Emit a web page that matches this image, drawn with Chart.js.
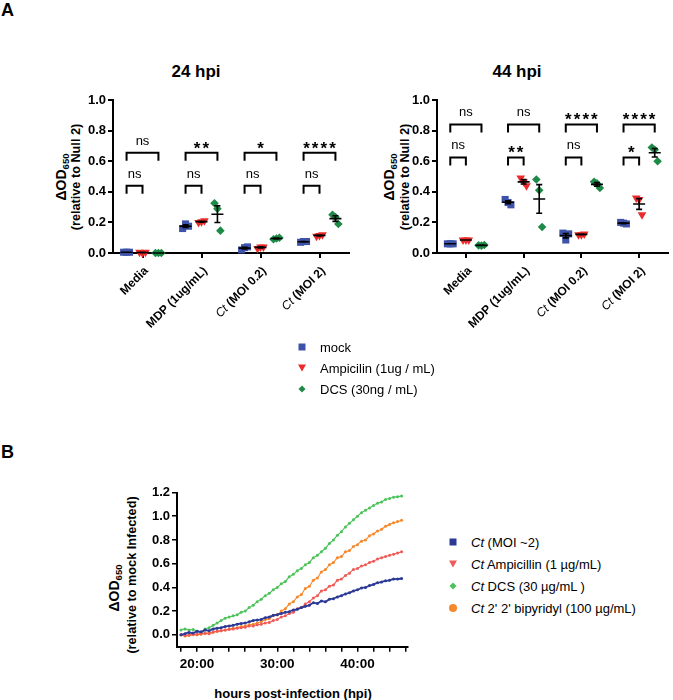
<!DOCTYPE html>
<html>
<head>
<meta charset="utf-8">
<script src="https://cdn.jsdelivr.net/npm/chart.js@4.4.1/dist/chart.umd.min.js"></script>
<style>
  body { margin: 0; width: 673px; height: 700px; position: relative; overflow: hidden; background: #fff;
         font-family: "Liberation Sans", Arial, sans-serif; color: #000; }
  canvas { position: absolute; }
  .t { position: absolute; white-space: nowrap; }
  .panel { font-weight: bold; font-size: 18px; }
  .title { font-weight: bold; font-size: 17px; transform: translate(-50%, -50%); }
  .vt { position: absolute; white-space: nowrap; font-weight: bold; transform: translate(-50%, -50%) rotate(-90deg); }
  .vt.big { font-size: 14px; }
  .vt.big sub { font-size: 9.5px; }
  .vt.small { font-size: 12.7px; }
  .leg { position: absolute; font-size: 13px; white-space: nowrap; transform: translateY(-50%); }
  .mk { position: absolute; transform: translate(-50%, -50%); }
  .sq { width: 7px; height: 7px; }
  .tri { width: 0; height: 0; border-left: 4px solid transparent; border-right: 4px solid transparent; border-top: 7px solid; }
  .dia { width: 5px; height: 5px; transform: translate(-50%, -50%) rotate(45deg); }
  .cir { width: 8px; height: 8px; border-radius: 50%; }
  .xt { font-weight: bold; font-size: 13px; transform: translate(-50%, -50%); }
</style>
</head>
<body>
<div class="t panel" style="left:1px; top:0px;">A</div>
<div class="t panel" style="left:1px; top:442px;">B</div>

<div class="t title" style="left:196px; top:72px;">24 hpi</div>
<div class="t title" style="left:517px; top:72px;">44 hpi</div>

<div class="vt big" style="left:62px; top:177px;">ΔOD<sub>650</sub></div>
<div class="vt small" style="left:76px; top:177px;">(relative to Null 2)</div>
<div class="vt big" style="left:390px; top:177px;">ΔOD<sub>650</sub></div>
<div class="vt small" style="left:405px; top:177px;">(relative to Null 2)</div>

<div class="vt big" style="left:115px; top:588px;">ΔOD<sub>650</sub></div>
<div class="vt small" style="left:132px; top:575px;">(relative to mock Infected)</div>
<div class="t xt" style="left:293px; top:693px;">hours post-infection (hpi)</div>

<canvas id="c24" width="355" height="270" style="left:0; top:80px;"></canvas>
<canvas id="c44" width="349" height="270" style="left:324px; top:80px;"></canvas>
<canvas id="cB" width="440" height="230" style="left:0; top:470px;"></canvas>

<div id="legA"></div>
<div id="legB"></div>

<script>
// ---- panel A data ----
const groups = ['Media', 'MDP (1ug/mL)', 'Ct (MOI 0.2)', 'Ct (MOI 2)'];
const treatments = ['mock', 'Ampicilin (1ug / mL)', 'DCS (30ng / mL)'];

const mock24 = [[0.005, 0.005, 0.005], [0.16, 0.19, 0.175], [0.02, 0.035, 0.04], [0.07, 0.075, 0.075]];
const ampicilin24 = [[0.005, 0.0, 0.005], [0.2, 0.205, 0.21], [0.03, 0.04, 0.04], [0.11, 0.115, 0.12]];
const dcs24 = [[0.0, 0.0, 0.0], [0.325, 0.29, 0.146], [0.09, 0.095, 0.1], [0.25, 0.235, 0.19]];

const mock44 = [[0.06, 0.06, 0.06], [0.35, 0.33, 0.315], [0.13, 0.085, 0.125], [0.2, 0.195, 0.19]];
const ampicilin44 = [[0.085, 0.085, 0.085], [0.49, 0.465, 0.44], [0.12, 0.12, 0.125], [0.36, 0.35, 0.25]];
const dcs44 = [[0.05, 0.048, 0.052], [0.48, 0.41, 0.17], [0.465, 0.455, 0.425], [0.69, 0.675, 0.6]];

const sig24Short = ['ns', 'ns', 'ns', 'ns'];
const sig24Long = ['ns', '**', '*', '****'];
const sig44Short = ['ns', '**', 'ns', '*'];
const sig44Long = ['ns', 'ns', '****', '****'];

const yTicksA = [0, 0.2, 0.4, 0.6, 0.8, 1.0];

// ---- panel B data ----
const bSeries = ['Ct (MOI ~2)', 'Ct Ampicillin (1 µg/mL)', 'Ct DCS (30 µg/mL )', "Ct 2' 2' bipyridyl (100 µg/mL)"];
const hours = [18, 18.5, 19, 19.5, 20, 20.5, 21, 21.5, 22, 22.5, 23, 23.5, 24, 24.5, 25, 25.5, 26, 26.5, 27, 27.5,
  28, 28.5, 29, 29.5, 30, 30.5, 31, 31.5, 32, 32.5, 33, 33.5, 34, 34.5, 35, 35.5, 36, 36.5, 37, 37.5,
  38, 38.5, 39, 39.5, 40, 40.5, 41, 41.5, 42, 42.5, 43, 43.5, 44, 44.5, 45, 45.5];
const ctMoi2 = [0.00, 0.01, 0.02, 0.015, 0.03, 0.025, 0.04, 0.035, 0.05, 0.055,
  0.06, 0.07, 0.075, 0.08, 0.09, 0.095, 0.10, 0.11, 0.12, 0.125,
  0.13, 0.145, 0.15, 0.165, 0.17, 0.18, 0.19, 0.195, 0.21, 0.215,
  0.23, 0.24, 0.25, 0.27, 0.265, 0.285, 0.28, 0.30, 0.305, 0.32,
  0.33, 0.345, 0.355, 0.37, 0.38, 0.395, 0.40, 0.415, 0.425, 0.44,
  0.445, 0.455, 0.46, 0.47, 0.47, 0.475];
const ctAmpicillin = [0.0, -0.005, 0.0, 0.005, 0.005, 0.01, 0.015, 0.01, 0.025, 0.03,
  0.035, 0.04, 0.045, 0.05, 0.055, 0.06, 0.065, 0.075, 0.075, 0.085,
  0.09, 0.10, 0.105, 0.12, 0.13, 0.15, 0.16, 0.18, 0.19, 0.22,
  0.23, 0.26, 0.28, 0.31, 0.33, 0.37, 0.38, 0.41, 0.42, 0.46,
  0.47, 0.50, 0.52, 0.55, 0.56, 0.58, 0.59, 0.61, 0.62, 0.64,
  0.65, 0.66, 0.67, 0.68, 0.69, 0.70];
const ctDcs = [0.04, 0.05, 0.04, 0.045, 0.03, 0.02, 0.05, 0.06, 0.08, 0.10,
  0.12, 0.14, 0.15, 0.16, 0.17, 0.19, 0.20, 0.23, 0.25, 0.28,
  0.30, 0.33, 0.35, 0.38, 0.40, 0.43, 0.45, 0.49, 0.51, 0.54,
  0.56, 0.59, 0.61, 0.65, 0.67, 0.70, 0.73, 0.77, 0.80, 0.84,
  0.87, 0.91, 0.94, 0.97, 1.0, 1.03, 1.05, 1.07, 1.09, 1.11,
  1.12, 1.14, 1.15, 1.16, 1.165, 1.17];
const ctBipyridyl = [0.0, -0.01, -0.005, 0.0, 0.0, 0.005, 0.01, 0.015, 0.02, 0.03,
  0.035, 0.04, 0.05, 0.055, 0.06, 0.07, 0.075, 0.085, 0.09, 0.10,
  0.11, 0.13, 0.135, 0.16, 0.17, 0.20, 0.22, 0.26, 0.28, 0.32,
  0.34, 0.39, 0.41, 0.46, 0.48, 0.53, 0.55, 0.59, 0.61, 0.65,
  0.66, 0.70, 0.71, 0.745, 0.76, 0.79, 0.80, 0.835, 0.85, 0.875,
  0.89, 0.915, 0.93, 0.945, 0.955, 0.965];
const hourTicks = [18, 20, 22, 24, 26, 28, 30, 32, 34, 36, 38, 40, 42, 44, 46];
const labeledHours = [20, 30, 40];
const yTicksB = [0, 0.2, 0.4, 0.6, 0.8, 1.0, 1.2];

// ---- styles ----
const FONT = 'Liberation Sans';
const colorsA = ['#3D52A8', '#EC2A2A', '#1E8A47'];
const stylesA = ['rect', 'triangle', 'rectRot'];
const rotA = [0, 180, 0];
const radiusA = [5, 5, 4.3];
const groupShift = [-0.27, 0, 0.27];
const repSpread = [-0.05, 0, 0.05];
const colorsB = ['#2C3A96', '#F05A57', '#4CC35A', '#F7892C'];

function extras(series, brackets) {
  return {
    id: 'extras',
    afterDatasetsDraw(chart) {
      const { ctx, scales: { x, y } } = chart;
      ctx.save();
      ctx.strokeStyle = '#000';
      ctx.fillStyle = '#000';
      // mean +/- SEM
      ctx.lineWidth = 1.6;
      series.forEach((set, t) => set.forEach((reps, g) => {
        const n = reps.length;
        const mean = reps.reduce((a, b) => a + b, 0) / n;
        const sem = Math.sqrt(reps.reduce((a, b) => a + (b - mean) ** 2, 0) / (n - 1)) / Math.sqrt(n);
        const cx = x.getPixelForValue(g + groupShift[t]);
        const ym = y.getPixelForValue(mean);
        const yt = y.getPixelForValue(mean + sem);
        const yb = y.getPixelForValue(Math.max(0, mean - sem));
        ctx.beginPath();
        ctx.moveTo(cx - 6, ym); ctx.lineTo(cx + 6, ym);
        ctx.moveTo(cx, yt); ctx.lineTo(cx, yb);
        ctx.moveTo(cx - 3, yt); ctx.lineTo(cx + 3, yt);
        ctx.moveTo(cx - 3, yb); ctx.lineTo(cx + 3, yb);
        ctx.stroke();
      }));
      // significance brackets
      ctx.lineWidth = 2;
      brackets.forEach(b => b.labels.forEach((lab, g) => {
        const x0 = x.getPixelForValue(g + groupShift[0]);
        const x1 = x.getPixelForValue(g + groupShift[b.to]);
        const yTop = y.getPixelForValue(b.level);
        ctx.beginPath();
        ctx.moveTo(x0, yTop + 8); ctx.lineTo(x0, yTop); ctx.lineTo(x1, yTop); ctx.lineTo(x1, yTop + 8);
        ctx.stroke();
        const xm = (x0 + x1) / 2;
        ctx.textAlign = 'center';
        ctx.textBaseline = 'alphabetic';
        if (lab === 'ns') {
          ctx.font = `13px "${FONT}"`;
          ctx.fillText('ns', xm, yTop - 8);
        } else {
          ctx.font = `bold 17px "${FONT}"`;
          for (let i = 0; i < lab.length; i++) {
            ctx.fillText('*', xm + (i - (lab.length - 1) / 2) * 8.7, yTop + 1);
          }
        }
      }));
      // rotated category labels, "Ct" in italics
      groups.forEach((label, g) => {
        ctx.save();
        ctx.translate(x.getPixelForValue(g) + 4, x.top + 16);
        ctx.rotate(-Math.PI / 4);
        ctx.textAlign = 'right';
        ctx.textBaseline = 'middle';
        const italic = label.startsWith('Ct ');
        const rest = italic ? label.slice(2) : label;
        ctx.font = `bold 12px "${FONT}"`;
        ctx.fillText(rest, 0, 0);
        if (italic) {
          const w = ctx.measureText(rest).width;
          ctx.font = `italic 12px "${FONT}"`;
          ctx.fillText('Ct', -w, 0);
        }
        ctx.restore();
      });
      ctx.restore();
    }
  };
}

const axisGrid = { drawOnChartArea: false, tickLength: 5, color: '#000', lineWidth: 2 };
const axisBorder = { color: '#000', width: 2 };

function dotChart(id, series, brackets, padRight) {
  return new Chart(document.getElementById(id), {
    type: 'scatter',
    data: {
      datasets: series.map((set, t) => ({
        label: treatments[t],
        data: set.flatMap((reps, g) => reps.map((v, r) => ({ x: g + groupShift[t] + repSpread[r], y: v }))),
        pointStyle: stylesA[t],
        rotation: rotA[t],
        pointRadius: radiusA[t],
        backgroundColor: colorsA[t],
        borderColor: colorsA[t],
        borderWidth: 0,
        clip: false
      }))
    },
    options: {
      responsive: false,
      animation: false,
      layout: { padding: { top: 20, right: padRight, left: 0, bottom: 0 } },
      plugins: { legend: { display: false }, tooltip: { enabled: false } },
      scales: {
        x: {
          type: 'linear', min: -0.5, max: 3.5,
          afterBuildTicks: s => { s.ticks = groups.map((_, g) => ({ value: g })); },
          afterFit: s => { s.height = 97; },
          grid: axisGrid, border: axisBorder,
          ticks: { callback: () => '' }
        },
        y: {
          min: 0, max: 1,
          afterBuildTicks: s => { s.ticks = yTicksA.map(v => ({ value: v })); },
          afterFit: s => { s.width = 113; },
          grid: axisGrid, border: axisBorder,
          ticks: { callback: v => v.toFixed(1), color: '#000', padding: 2, font: { family: FONT, size: 13, weight: 'bold' } }
        }
      }
    },
    plugins: [extras(series, brackets)]
  });
}

dotChart('c24', [mock24, ampicilin24, dcs24],
  [{ to: 1, level: 0.44, labels: sig24Short }, { to: 2, level: 0.655, labels: sig24Long }], 6);
dotChart('c44', [mock44, ampicilin44, dcs44],
  [{ to: 1, level: 0.625, labels: sig44Short }, { to: 2, level: 0.84, labels: sig44Long }], 0);

// ---- panel B chart ----
const bValues = [ctMoi2, ctAmpicillin, ctDcs, ctBipyridyl];
new Chart(document.getElementById('cB'), {
  type: 'scatter',
  data: {
    datasets: bValues.map((vals, i) => ({
      label: bSeries[i],
      data: hours.map((h, k) => ({ x: h, y: vals[k] })),
      showLine: true,
      tension: 0.4,
      borderColor: colorsB[i],
      borderWidth: i === 0 ? 1.8 : 1.1,
      pointRadius: 1.5,
      pointBackgroundColor: colorsB[i],
      pointBorderWidth: 0,
      clip: false
    }))
  },
  options: {
    responsive: false,
    animation: false,
    layout: { padding: { top: 22.5, right: 32, left: 0, bottom: 0 } },
    plugins: { legend: { display: false }, tooltip: { enabled: false } },
    scales: {
      x: {
        type: 'linear', min: 17.5, max: 46.3,
        afterBuildTicks: s => { s.ticks = hourTicks.map(v => ({ value: v })); },
        afterFit: s => { s.height = 53.3; },
        grid: { drawOnChartArea: false, tickLength: 5, color: '#000', lineWidth: 1.5 },
        border: axisBorder,
        ticks: {
          autoSkip: false, maxRotation: 0, color: '#000', padding: 4,
          font: { family: FONT, size: 13.5, weight: 'bold' },
          callback: v => labeledHours.includes(v) ? v + ':00' : ''
        }
      },
      y: {
        min: -0.1, max: 1.2,
        afterBuildTicks: s => { s.ticks = yTicksB.map(v => ({ value: v })); },
        afterFit: s => { s.width = 177; },
        grid: { drawOnChartArea: false, tickLength: 5, color: '#000', lineWidth: 1.5 },
        border: axisBorder,
        ticks: { callback: v => v.toFixed(1), color: '#000', padding: 2, font: { family: FONT, size: 13, weight: 'bold' } }
      }
    }
  }
});

// ---- legends ----
function marker(shape, color, x, y) {
  const m = document.createElement('div');
  m.className = 'mk ' + shape;
  if (shape === 'tri') m.style.borderTopColor = color; else m.style.background = color;
  m.style.left = x + 'px';
  m.style.top = y + 'px';
  return m;
}
function legendText(html, x, y) {
  const d = document.createElement('div');
  d.className = 'leg';
  d.innerHTML = html;
  d.style.left = x + 'px';
  d.style.top = y + 'px';
  return d;
}
const legA = document.getElementById('legA');
const shapesA = ['sq', 'tri', 'dia'];
treatments.forEach((name, i) => {
  const yy = 347 + i * 21;
  legA.appendChild(marker(shapesA[i], colorsA[i], 302, yy));
  legA.appendChild(legendText(name, 320, yy));
});
const legB = document.getElementById('legB');
const shapesB = ['sq', 'tri', 'dia', 'cir'];
bSeries.forEach((name, i) => {
  const yy = 541.5 + i * 22;
  legB.appendChild(marker(shapesB[i], colorsB[i], 452.5, yy));
  legB.appendChild(legendText(name.replace(/^Ct /, '<i>Ct</i> '), 471, yy));
});
</script>
</body>
</html>
